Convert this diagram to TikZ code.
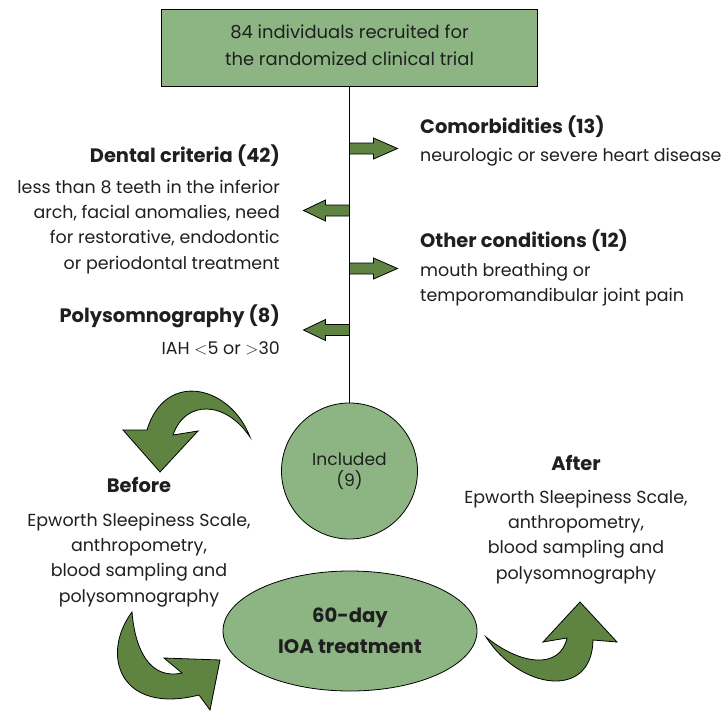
\documentclass[tikz,border=0pt]{standalone}
\usepackage{fontspec}
\setmainfont{Poppins}
\usetikzlibrary{shapes.geometric}
\definecolor{lgreen}{HTML}{8DB583}
\definecolor{dgreen}{HTML}{5F8441}
\definecolor{txt}{HTML}{1F1F1F}
\tikzset{
  blk/.style={fill=dgreen, draw=black, line width=0.8pt, line join=miter},
  rarr/.pic={\path[blk] (0,-5.5) -- (24,-5.5) -- (24,-10.5) -- (48,0) -- (24,10.5) -- (24,5.5) -- (0,5.5) -- cycle;},
  larr/.pic={\path[blk] (0,-5.5) -- (-24,-5.5) -- (-24,-10.5) -- (-46,0) -- (-24,10.5) -- (-24,5.5) -- (0,5.5) -- cycle;},
  reg/.style={font=\fontsize{17.5}{25.3}\selectfont},
  hd/.style={font=\fontsize{19.5}{25}\selectfont\bfseries},
  shp/.style={draw=black, fill=lgreen, line width=0.8pt}
}
\begin{document}
\begin{tikzpicture}[x=1bp,y=-1bp, every node/.style={inner sep=0pt, text=txt}]
\useasboundingbox (0,0) rectangle (722,712);
% main box
\node[shp, minimum width=376bp, minimum height=77bp] (top) at (349.5,47.5) {};
\node[align=center, font=\fontsize{18}{27}\selectfont] (toptxt) at (349.5,45) {84 individuals recruited for\\the randomized clinical trial};
\node[shp, circle, minimum size=136bp, align=center, font=\fontsize{17.2}{21}\selectfont] (inc) at (349.5,471) {Included\\(9)};
\node[shp, ellipse, minimum width=254bp, minimum height=120bp, align=center, font=\fontsize{19.7}{31}\selectfont\bfseries] (ioa) at (350,631) {60-day\\IOA treatment};
\draw[line width=0.8pt] (top.south) -- (inc.north);
% block arrows
\pic at (349.5,148.5) {rarr};
\pic at (349.5,210.5) {larr};
\pic at (349.5,268.5) {rarr};
\pic at (349.5,330) {larr};
% right texts
\node[hd, anchor=west] (com) at (420,127) {Comorbidities (13)};
\node[reg, anchor=west] (comt) at (420,157) {neurologic or severe heart disease};
\node[hd, anchor=west] (oth) at (420,241) {Other conditions (12)};
\node[reg, anchor=west, align=left] (otht) at (420,285) {mouth breathing or\\temporomandibular joint pain};
% left texts
\node[hd, anchor=east] (den) at (280,156) {Dental criteria (42)};
\node[reg, anchor=east, align=right] (dent) at (280,227) {less than 8 teeth in the inferior\\arch, facial anomalies, need\\for restorative, endodontic\\or periodontal treatment};
\node[hd, anchor=east] (pol) at (280,316) {Polysomnography (8)};
\node[reg, anchor=east] (polt) at (280,348) {IAH $<$5 or $>$30};
% before / after
\node[hd] (bef) at (139,485) {Before};
\node[reg, align=center] (beft) at (139,560) {Epworth Sleepiness Scale,\\anthropometry,\\blood sampling and\\polysomnography};
\node[hd] (aft) at (576,463) {After};
\node[reg, align=center] (aftt) at (576,537) {Epworth Sleepiness Scale,\\anthropometry,\\blood sampling and\\polysomnography};
% curved arrows
\path[blk] (250,437) .. controls (230,385) and (165,370) .. (147,430)
  -- (123,430) -- (160,472) -- (198,431) -- (173,435)
  .. controls (185,400) and (225,400) .. (250,437) -- cycle;
\path[blk] (132,612) .. controls (100,655) and (120,715) .. (199,695)
  -- (210,710) -- (220,660) -- (164,658) -- (182,673)
  .. controls (150,680) and (135,650) .. (132,612) -- cycle;
\path[blk] (486,637) .. controls (520,690) and (592,700) .. (593,640)
  -- (617,642) -- (580,602) -- (543,642) -- (567,638)
  .. controls (560,670) and (520,665) .. (486,637) -- cycle;
\end{tikzpicture}
\end{document}
